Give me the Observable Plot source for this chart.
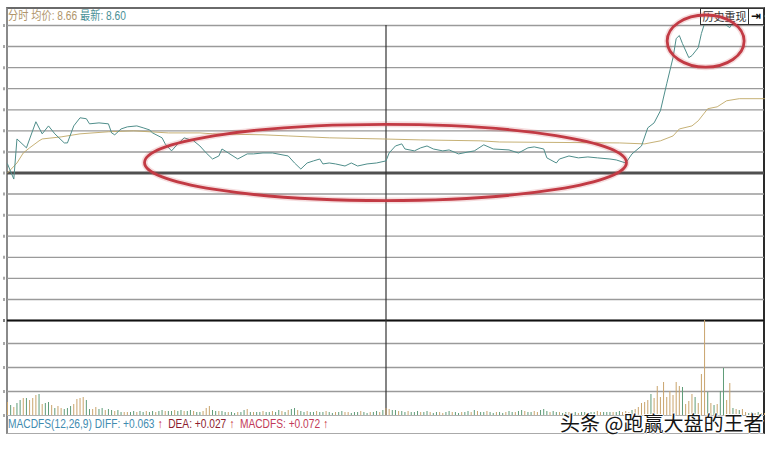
<!DOCTYPE html>
<html><head><meta charset="utf-8">
<script src="https://cdn.jsdelivr.net/npm/d3@7"></script>
<script src="https://cdn.jsdelivr.net/npm/@observablehq/plot@0.6"></script>
<style>
html,body{margin:0;padding:0;background:#fff}
#wrap{position:relative;width:775px;height:449px;overflow:hidden;background:#fff;font-family:"Liberation Sans","Noto Sans CJK SC",sans-serif}
.abs{position:absolute}
#frame{left:6px;top:7px;width:759px;height:427px;box-sizing:border-box;border-top:2px solid #6a6a6a;border-left:2px solid #8a8a8a;border-right:2px solid #2a2a2a;border-bottom:1px solid #aaa}
#hdr{left:8px;top:9px;font-size:12px;line-height:14px;white-space:nowrap;transform:scaleX(0.85);transform-origin:0 0}
#btn{left:700px;top:8px;width:49px;height:17px;box-sizing:border-box;border:1px solid #333;background:#fff;font-size:11px;line-height:15px;text-align:center;color:#333;white-space:nowrap;overflow:hidden;font-family:"Noto Sans CJK SC",sans-serif}
#btn2{left:748px;top:8px;width:16px;height:17px;box-sizing:border-box;border:1px solid #333;background:#fff;font-size:12px;line-height:15px;text-align:center;color:#111;font-weight:bold;font-family:"DejaVu Sans",sans-serif}
#macd{left:8px;top:417px;font-size:12px;line-height:14px;white-space:nowrap;transform:scaleX(0.85);transform-origin:0 0}
#wm{left:560px;top:413px;font-size:20px;line-height:20px;white-space:nowrap;color:#151515;font-family:"Noto Sans CJK SC",sans-serif;text-shadow:1px 0 0 #fff,-1px 0 0 #fff,0 1px 0 #fff,0 -1px 0 #fff}
.up{color:#c4262e;font-weight:bold}
</style></head><body>
<div id="wrap">
  <div id="frame" class="abs"></div>
  <div id="price" class="abs" style="left:0;top:0"></div>
  <div id="vol" class="abs" style="left:0;top:318px"></div>
  <div id="hdr" class="abs"><span style="color:#b0956a">分时 均价: 8.66</span> <span style="color:#4a9096">最新: 8.60</span></div>
  <div id="btn" class="abs">历史重现</div>
  <div id="btn2" class="abs">⇥</div>
  <div id="annot" class="abs" style="left:0;top:0;pointer-events:none"></div>
  <div id="macd" class="abs"><span style="color:#3f8bb0">MACDFS(12,26,9) DIFF: +0.063</span> <span class="up">↑</span>&nbsp; <span style="color:#8c1c2e">DEA: +0.027</span> <span class="up">↑</span>&nbsp; <span style="color:#c23a58">MACDFS: +0.072</span> <span class="up">↑</span></div>
  <div id="wm" class="abs">头条 @跑赢大盘的王者</div>
</div>
<script>
// ---- data (minute of session 0..240, price in yuan) ----
const prevClose = 7.82;
const priceGrid = [7.040, 7.151, 7.263, 7.374, 7.486, 7.597, 7.709, 7.820, 7.931, 8.043, 8.154, 8.266, 8.377, 8.489, 8.600];
const priceMin = [0,2,3,6,9,11,13,15,18,19,21,23,25,26,29,32,33,34,36,38,41,43,45,46,49,50,52,54,56,59,61,63,65,67,68,70,73,76,78,81,84,89,91,93,95,97,99,100,102,104,107,109,111,114,117,120,121,123,125,126,129,131,133,135,138,140,143,146,148,151,154,159,162,165,167,170,171,174,175,178,181,184,187,191,193,196,198,201,203,205,207,209,211,212,213,214,216,217,219,220,221,222,224,226,227,229,230,232,235,238,240];
const priceVal = [7.868,7.788,8.000,7.953,8.091,8.027,8.069,8.027,7.979,7.979,8.069,8.112,8.107,8.080,8.085,8.080,8.032,8.022,8.053,8.064,8.069,8.059,8.048,8.032,8.006,7.974,7.937,7.974,8.006,7.990,7.963,7.926,7.894,7.910,7.947,7.926,7.894,7.921,7.921,7.926,7.926,7.910,7.873,7.841,7.873,7.884,7.894,7.868,7.873,7.868,7.857,7.873,7.857,7.868,7.873,7.884,7.926,7.963,7.974,7.947,7.937,7.953,7.963,7.947,7.937,7.942,7.921,7.931,7.937,7.969,7.947,7.942,7.926,7.953,7.958,7.947,7.900,7.873,7.894,7.910,7.900,7.905,7.900,7.894,7.889,7.873,7.921,7.963,8.059,8.085,8.149,8.292,8.430,8.531,8.547,8.504,8.430,8.441,8.483,8.558,8.611,8.640,8.660,8.640,8.611,8.589,8.620,8.650,8.660,8.650,8.650];
const avgMin = [0,3,5,7,10,11,17,23,32,40,51,61,65,81,89,102,119,131,150,156,194,202,207,211,213,217,219,222,225,228,232,240];
const avgVal = [7.820,7.873,7.926,7.953,7.990,8.000,8.011,8.027,8.038,8.043,8.032,8.032,8.027,8.022,8.016,8.006,8.000,7.995,7.990,7.984,7.979,7.974,7.990,8.016,8.053,8.069,8.096,8.160,8.170,8.202,8.213,8.213];
// volume per minute (hundreds of lots)
const volume = [
 13,10,8,12,15,17,17,15,17,20,
 21,11,12,13,10,7,9,7,6,7,
 9,11,16,17,18,15,6,6,8,6,
 7,5,6,5,4,5,3,3,3,3,
 4,3,4,3,4,3,4,3,4,5,
 4,4,4,5,4,5,4,4,5,4,
 3,3,4,7,9,5,4,4,4,3,
 3,3,2,3,3,5,6,3,3,3,
 3,4,3,3,4,3,5,4,3,5,
 6,7,5,4,3,4,3,3,4,3,
 3,4,3,2,3,3,4,3,3,2,
 3,3,4,3,2,3,3,4,3,5,
 7,6,5,5,4,4,3,4,3,3,
 4,3,3,4,3,2,3,3,2,3,
 4,3,3,2,3,3,4,3,5,4,
 3,3,4,3,2,3,3,2,3,4,
 3,3,4,5,4,3,3,4,3,5,
 6,4,3,4,3,3,2,3,3,2,
 3,2,3,3,2,3,3,4,3,3,
 3,3,3,3,4,3,4,3,5,6,
 8,12,13,15,21,17,29,18,33,18,
 24,20,33,29,28,11,14,21,18,12,
 41,95,23,12,10,11,24,47,15,32,
 7,6,5,6,3,2,3,2,3,2,2];
// bar direction per minute: u = up, d = down
const volDir = ["ududduduuu","dudduduudd","duuuudduud","duddudduud","dudduddudd","uddudduddu","dduuuddudd","udduddudud","dudduddudu","ddudduddud","duddudduud","ddudduddud","uudduddudd","duddudduud","dudduddudu","ddudduddud","duddudduud","ddudduddud","duddudduud","ddudduuudu","uuuuduuuuu","uuuuduuudu","uudududduu","duduuddudu","u"].join("");
const volGrid = [24, 48, 72];
const volMax = 95;
// hand-drawn annotation rings (center minute, center price, half-width minutes, half-height price)
const ringMin = [120, 221.5];
const ringPrice = [7.873, 8.515];
const ringHalfMin = [76.4, 12.2];
const ringHalfPrice = [0.2016, 0.138];

const priceData = priceMin.map((m, i) => ({m, p: priceVal[i]}));
const avgData = avgMin.map((m, i) => ({m, p: avgVal[i]}));
const volData = volume.map((v, i) => ({m: i, v, dir: volDir[i] || "d"}));

const W = 775;
const common = {width: W, marginLeft: 7, marginRight: 11, x: {domain: [0, 240], axis: null}};
const leftTicks = (vals) => Plot.ruleY(vals, {x1: 0, x2: 0, insetLeft: -3.5, insetRight: 2.5, stroke: "#555", strokeWidth: 3});

const priceChart = Plot.plot({
  ...common, height: 322, marginTop: 25, marginBottom: 2,
  y: {domain: [priceGrid[0], priceGrid[priceGrid.length - 1]], axis: null},
  style: {background: "transparent", overflow: "visible"},
  marks: [
    Plot.ruleY(priceGrid, {stroke: "#9a9a9a", strokeWidth: 1.3}),
    leftTicks(priceGrid),
    Plot.ruleY([prevClose], {stroke: "#505050", strokeWidth: 3}),
    Plot.ruleY([priceGrid[0]], {stroke: "#111", strokeWidth: 2}),
    Plot.ruleX([120], {stroke: "#333", strokeWidth: 1.2}),
    Plot.line(avgData, {x: "m", y: "p", stroke: "#c0a866", strokeWidth: 0.9}),
    Plot.line(priceData, {x: "m", y: "p", stroke: "#4f8e8b", strokeWidth: 1})
  ]
});
document.getElementById("price").append(priceChart);

const volChart = Plot.plot({
  ...common, height: 99, marginTop: 2, marginBottom: 2,
  y: {domain: [0, volMax], axis: null},
  color: {domain: ["u", "d"], range: ["#c9a46c", "#5f9c78"]},
  style: {background: "transparent", overflow: "visible"},
  marks: [
    Plot.ruleY(volGrid, {stroke: "#9a9a9a", strokeWidth: 1.3}),
    leftTicks([0, ...volGrid, volMax]),
    Plot.ruleY([0], {stroke: "#b0b0b0", strokeWidth: 1}),
    Plot.ruleX([120], {stroke: "#333", strokeWidth: 1.2}),
    Plot.ruleX(volData, {x: "m", y1: 0, y2: "v", stroke: "dir", strokeWidth: 1})
  ]
});
document.getElementById("vol").append(volChart);

try {
  const ringMark = (index, scales) => {
    const x = scales.x, y = scales.y;
    const g = d3.create("svg:g").attr("fill", "none");
    ringMin.forEach((m, i) => {
      const cx = x(m), cy = y(ringPrice[i]);
      const rx = Math.abs(x(m + ringHalfMin[i]) - cx);
      const ry = Math.abs(y(ringPrice[i] + ringHalfPrice[i]) - cy);
      g.append("ellipse").attr("cx", cx).attr("cy", cy).attr("rx", rx).attr("ry", ry)
        .attr("stroke", "#c8404a").attr("stroke-opacity", 0.18).attr("stroke-width", 6);
      g.append("ellipse").attr("cx", cx).attr("cy", cy).attr("rx", rx).attr("ry", ry)
        .attr("stroke", "#c23a44").attr("stroke-width", 2.8);
    });
    return g.node();
  };
  const annot = Plot.plot({
    ...common, height: 322, marginTop: 25, marginBottom: 2,
    y: {domain: [priceGrid[0], priceGrid[priceGrid.length - 1]], axis: null},
    style: {background: "transparent", overflow: "visible"},
    marks: [ringMark]
  });
  document.getElementById("annot").append(annot);
} catch (e) { console.error(e); }
</script>
</body></html>
